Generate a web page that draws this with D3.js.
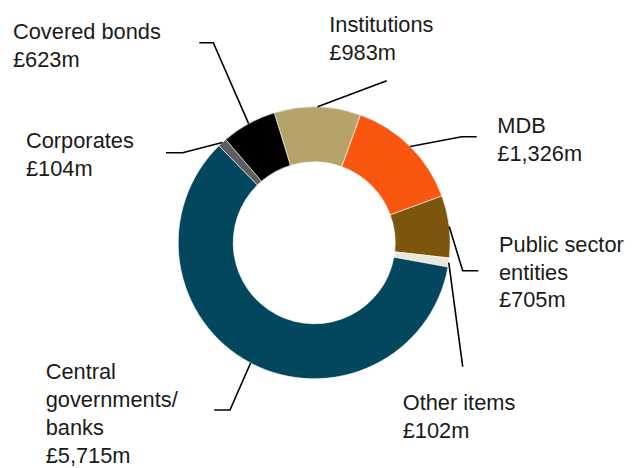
<!DOCTYPE html>
<html>
<head>
<meta charset="utf-8">
<script src="https://cdn.jsdelivr.net/npm/d3@7"></script>
<style>
  html, body { margin: 0; padding: 0; background: #ffffff; }
  svg { display: block; }
  text { font-family: "Liberation Sans", Arial, sans-serif; fill: #1a1a1a; }
</style>
</head>
<body>
<svg id="chart" width="635" height="468"></svg>
<script>
// ---- Data ----
const categories = ["Institutions", "MDB", "Public sector entities", "Other items",
                    "Central governments/banks", "Corporates", "Covered bonds"];
const values = [983, 1326, 705, 102, 5715, 104, 623];
const valueLabels = ["£983m", "£1,326m", "£705m", "£102m", "£5,715m", "£104m", "£623m"];
const nameLines = [["Institutions"], ["MDB"], ["Public sector", "entities"], ["Other items"],
                   ["Central", "governments/", "banks"], ["Corporates"], ["Covered bonds"]];

// ---- Styles / layout ----
const colors = ["#b5a36b", "#f9570f", "#7c560d", "#ebe7dc", "#02475d", "#5e5e5e", "#000000"];
const cx = 314.2, cy = 242.8, rOuter = 136, rInner = 81;
const startDeg = -17.1;
const fontSize = 21.8, lineH = 27.8;
// leader elbow / end points and label anchor (x, first baseline)
const labelLayout = [
  { elbow: [386.7, 80.7],  end: [386.7, 80.7],  tx: 329.3, ty: 31.7 },
  { elbow: [461.7, 136.7], end: [476.7, 136.7], tx: 497.3, ty: 133.3 },
  { elbow: [462.7, 270.7], end: [478.3, 270.7], tx: 499.0, ty: 251.7 },
  { elbow: [462.7, 366.7], end: [462.7, 366.7], tx: 402.7, ty: 410.0 },
  { elbow: [230.0, 410.0], end: [214.3, 410.0], tx: 45.7,  ty: 379.3 },
  { elbow: [182.7, 152.7], end: [166.0, 152.7], tx: 26.0,  ty: 148.3 },
  { elbow: [213.3, 42.7],  end: [199.3, 42.7],  tx: 13.0,  ty: 39.0 }
];

const svg = d3.select("#chart");
const data = categories.map((c, i) => ({ name: c, value: values[i], i }));

const start = startDeg * Math.PI / 180;
const pie = d3.pie().value(d => d.value).sort(null)
  .startAngle(start).endAngle(start + 2 * Math.PI);
const arcs = pie(data);
const arc = d3.arc().innerRadius(rInner).outerRadius(rOuter);

const g = svg.append("g").attr("transform", `translate(${cx},${cy})`);
g.selectAll("path.slice").data(arcs).join("path")
  .attr("class", "slice")
  .attr("d", arc)
  .attr("fill", d => colors[d.data.i])
  .attr("stroke", "#ffffff")
  .attr("stroke-width", 0.6);

// leader lines
const line = d3.line();
svg.selectAll("path.leader").data(arcs).join("path")
  .attr("class", "leader")
  .attr("d", d => {
    const a = (d.startAngle + d.endAngle) / 2;
    const p0 = [cx + rOuter * Math.sin(a), cy - rOuter * Math.cos(a)];
    const L = labelLayout[d.data.i];
    return line([p0, L.elbow, L.end]);
  })
  .attr("fill", "none")
  .attr("stroke", "#000")
  .attr("stroke-width", 1.6);

// labels
const labels = svg.selectAll("text.lab").data(arcs).join("text")
  .attr("class", "lab")
  .attr("font-size", fontSize)
  .attr("x", d => labelLayout[d.data.i].tx)
  .attr("y", d => labelLayout[d.data.i].ty);
labels.each(function(d) {
  const t = d3.select(this);
  const lines = nameLines[d.data.i].concat([valueLabels[d.data.i]]);
  lines.forEach((s, k) => {
    t.append("tspan")
      .attr("x", labelLayout[d.data.i].tx)
      .attr("y", labelLayout[d.data.i].ty + k * lineH)
      .text(s);
  });
});
</script>
</body>
</html>
